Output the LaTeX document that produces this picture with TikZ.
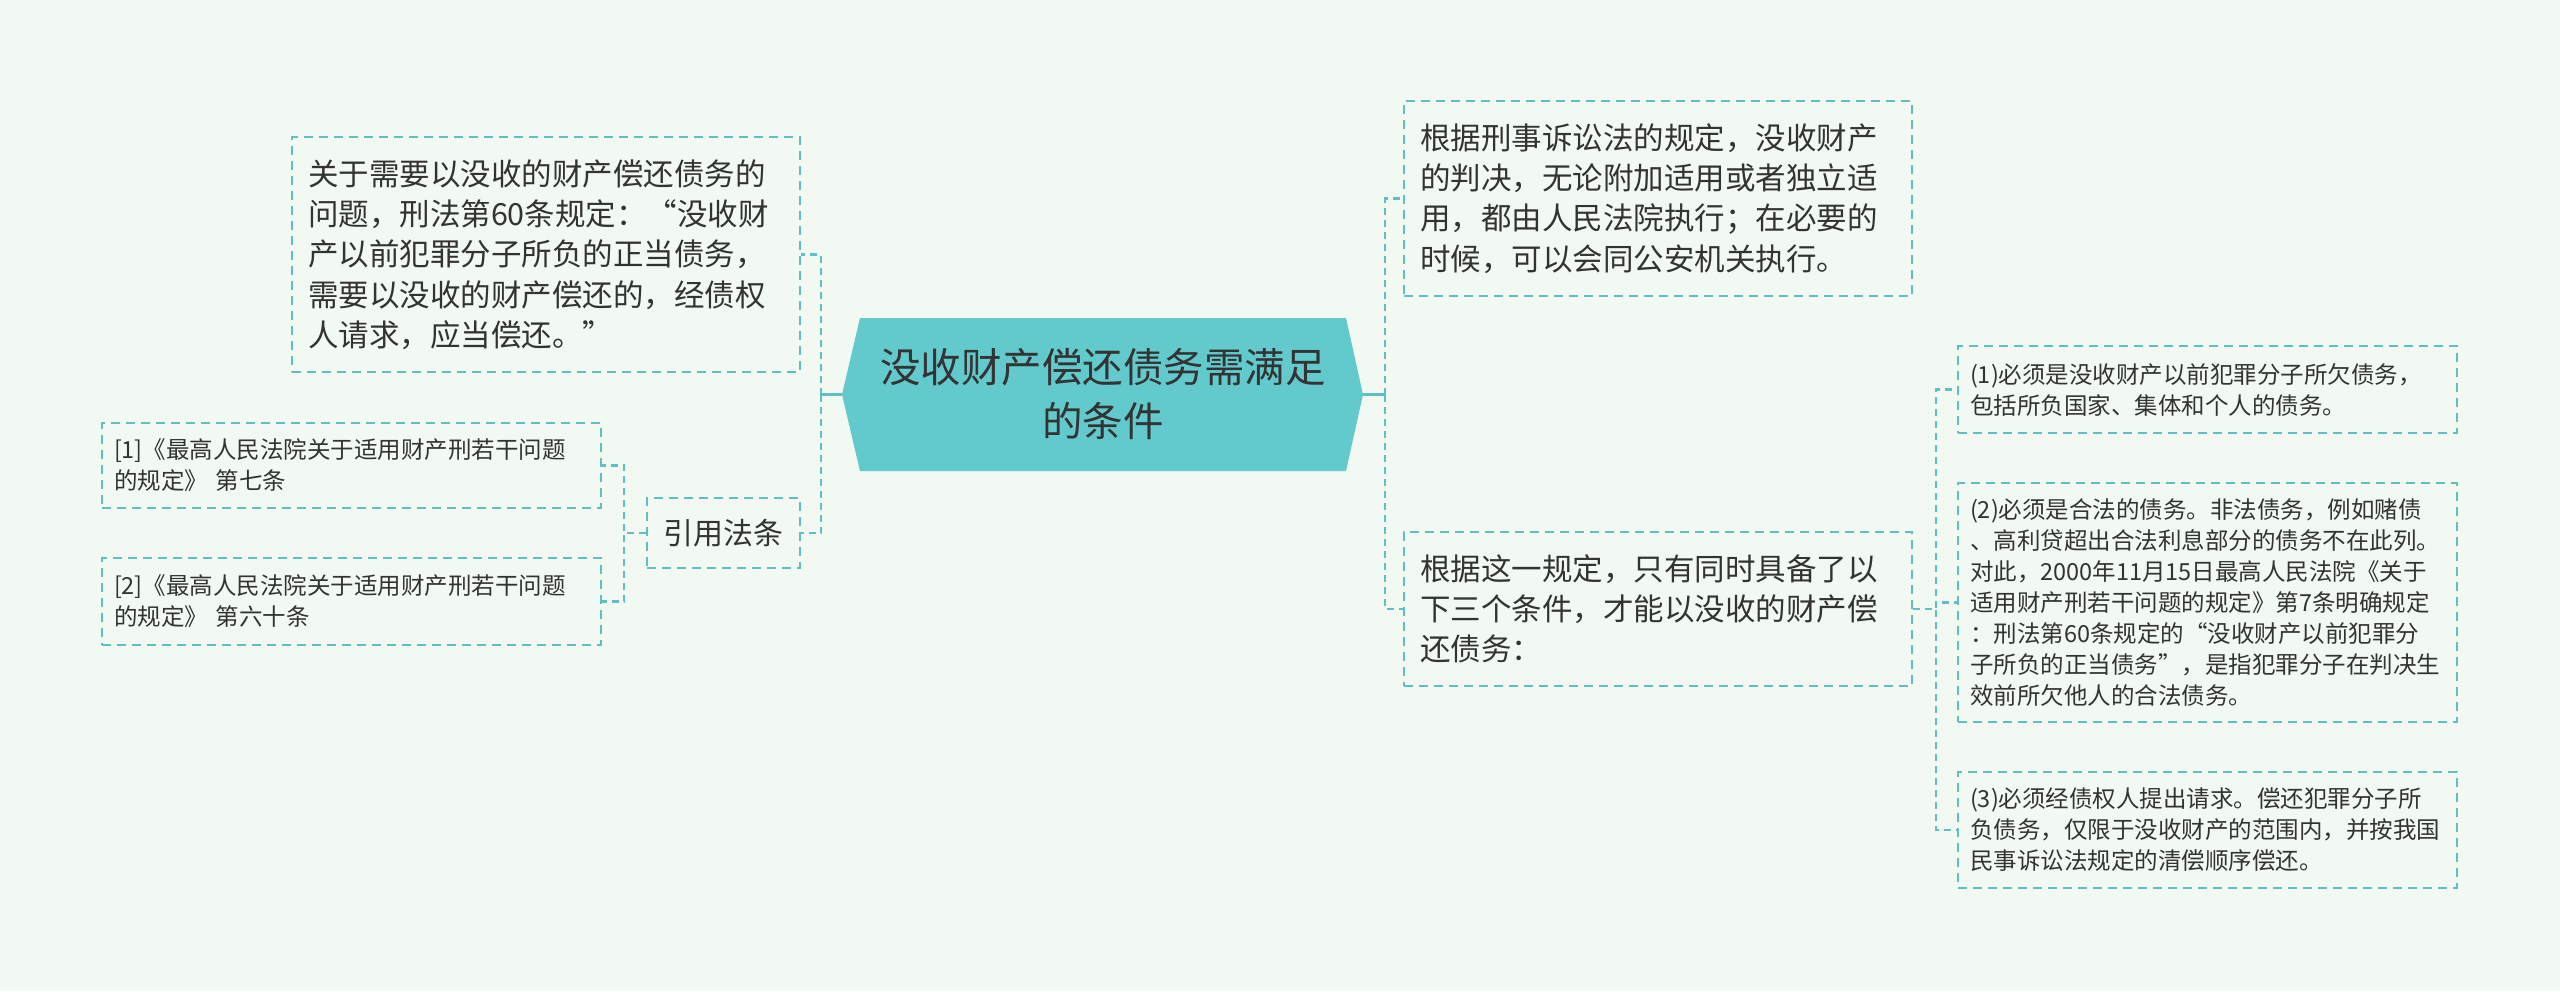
\documentclass[tikz,border=0pt]{standalone}
\usepackage{fontspec}
\setmainfont{Noto Sans CJK SC}
\definecolor{bgcol}{HTML}{F1F9F2}
\definecolor{linecol}{HTML}{5EBFC4}
\definecolor{rootcol}{HTML}{62C9CC}
\definecolor{txtcol}{HTML}{333333}
\tikzset{
  topic/.style={draw=linecol, line width=1.8pt, dash pattern=on 9pt off 6pt,
    text=txtcol, align=left, inner xsep=16pt, inner ysep=0pt, text width=476pt,
    font=\fontsize{30.5}{40.3}\selectfont},
  note/.style={topic, inner xsep=12pt, text width=475pt,
    font=\fontsize{23.5}{31}\selectfont},
  citebox/.style={draw=linecol, line width=1.8pt, dash pattern=on 9pt off 6pt,
    text=txtcol, minimum width=153pt, minimum height=70pt, inner sep=0pt,
    font=\fontsize{30}{36}\selectfont},
  rootbox/.style={text=txtcol, align=center, minimum width=486pt, minimum height=153pt,
    inner sep=0pt, font=\fontsize{40.5}{54}\selectfont},
  link/.style={draw=linecol, line width=2.4pt, dash pattern=on 7pt off 5pt},
  stub/.style={draw=linecol, line width=2.4pt},
}
\begin{document}
\begin{tikzpicture}[x=1pt, y=-1pt]
\useasboundingbox (0,0) rectangle (2560,991);
\fill[bgcol] (0,0) rectangle (2560,991);
% root
\coordinate (rootW) at (842,394.5);
\coordinate (rootE) at (1363,394.5);
\fill[rootcol] (rootW)--(860,318)--(1346,318)--(rootE)--(1346,471)--(860,471)--cycle;
\node[rootbox] (root) at (1103,394.5) {没收财产偿还债务需满足\\的条件};
% left side
\node[topic, minimum height=235pt] (law) at (546,254.5)
  {关于需要以没收的财产偿还债务的\\问题，刑法第60条规定：“没收财\\产以前犯罪分子所负的正当债务，\\需要以没收的财产偿还的，经债权\\人请求，应当偿还。”};
\node[citebox] (cite) at (723.5,533) {引用法条};
\node[note, minimum height=85pt] (ref1) at (351.5,465.5)
  {[1]《最高人民法院关于适用财产刑若干问题\\的规定》 第七条};
\node[note, minimum height=87pt] (ref2) at (351.5,601.5)
  {[2]《最高人民法院关于适用财产刑若干问题\\的规定》 第六十条};
% right side
\node[topic, minimum height=195pt] (exec) at (1658,198.5)
  {根据刑事诉讼法的规定，没收财产\\的判决，无论附加适用或者独立适\\用，都由人民法院执行；在必要的\\时候，可以会同公安机关执行。};
\node[topic, minimum height=154pt] (cond) at (1658,609)
  {根据这一规定，只有同时具备了以\\下三个条件，才能以没收的财产偿\\还债务：};
\node[note, minimum height=87pt] (c1) at (2207.5,389.5)
  {(1)必须是没收财产以前犯罪分子所欠债务，\\包括所负国家、集体和个人的债务。};
\node[note, minimum height=239pt] (c2) at (2207.5,602.5)
  {(2)必须是合法的债务。非法债务，例如赌债\\、高利贷超出合法利息部分的债务不在此列。\\对此，2000年11月15日最高人民法院《关于\\适用财产刑若干问题的规定》第7条明确规定\\：刑法第60条规定的“没收财产以前犯罪分\\子所负的正当债务”，是指犯罪分子在判决生\\效前所欠他人的合法债务。};
\node[note, minimum height=116pt] (c3) at (2207.5,830)
  {(3)必须经债权人提出请求。偿还犯罪分子所\\负债务，仅限于没收财产的范围内，并按我国\\民事诉讼法规定的清偿顺序偿还。};
% connectors
\coordinate (lbus) at (821,394.5);
\coordinate (rbus) at (1385,394.5);
\draw[stub] (rootW) -- (lbus);
\draw[link] (lbus) |- (law.east);
\draw[link] (lbus) |- (cite.east);
\draw[link] (cite.west) -- ++(-22,0) |- (ref1.east);
\draw[link] (cite.west) -- ++(-22,0) |- (ref2.east);
\draw[stub] (rootE) -- (rbus);
\draw[link] (rbus) |- (exec.west);
\draw[link] (rbus) |- (cond.west);
\draw[link] (cond.east) -- ++(23,0) |- (c1.west);
\draw[link] (cond.east) -- ++(23,0) |- (c2.west);
\draw[link] (cond.east) -- ++(23,0) |- (c3.west);
\end{tikzpicture}
\end{document}
